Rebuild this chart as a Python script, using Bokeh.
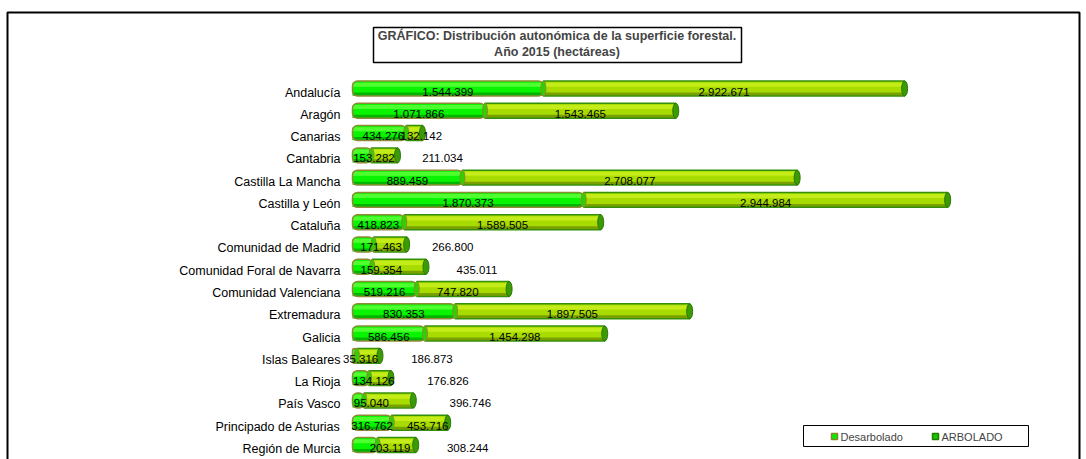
from bokeh.plotting import figure
from bokeh.models import Range1d, ColumnDataSource, LabelSet, Label, BoxAnnotation
from bokeh.embed import file_html
from bokeh.resources import INLINE
from bokeh.core.properties import value

# ---------------- data ----------------
regions = ["Andalucía", "Aragón", "Canarias", "Cantabria", "Castilla La Mancha",
           "Castilla y León", "Cataluña", "Comunidad de Madrid",
           "Comunidad Foral de Navarra", "Comunidad Valenciana", "Extremadura",
           "Galicia", "Islas Baleares", "La Rioja", "País Vasco",
           "Principado de Asturias", "Región de Murcia"]
desarbolado = [1544399, 1071866, 434276, 153282, 889459, 1870373, 418823, 171463,
               159354, 519216, 830353, 586456, 35316, 134126, 95040, 316762, 203119]
arbolado = [2922671, 1543465, 132142, 211034, 2708077, 2944984, 1589505, 266800,
            435011, 747820, 1897505, 1454298, 186873, 176826, 396746, 453716, 308244]
series_names = ["Desarbolado", "ARBOLADO"]
title_lines = ["GRÁFICO: Distribución autonómica de la superficie forestal.",
               "Año 2015 (hectáreas)"]

# label placement quirks of the original (pixel nudges)
outside_rows = {"Cantabria", "Comunidad de Madrid", "Comunidad Foral de Navarra",
                "Islas Baleares", "La Rioja", "País Vasco", "Región de Murcia"}
d_nudge = {"Canarias": 4, "Cantabria": 12, "Comunidad de Madrid": 18,
           "Comunidad Foral de Navarra": 19, "Islas Baleares": 6, "La Rioja": 13,
           "País Vasco": 13, "Región de Murcia": 25}
a_nudge = {"Cantabria": 45, "Comunidad de Madrid": 46, "Comunidad Foral de Navarra": 51,
           "Islas Baleares": 52, "La Rioja": 57, "País Vasco": 57,
           "Región de Murcia": 52, "Canarias": 7, "Principado de Asturias": 8,
           "Comunidad Valenciana": -5}


def fmt(v):
    return f"{v:,}".replace(",", ".")


FONT = "Liberation Sans"
W, H = 1086, 459
n = len(regions)
ys = list(range(n))
total = [d + a for d, a in zip(desarbolado, arbolado)]

# layout of the plotting area (frame covers the whole canvas)
X0 = 352            # pixel where value 0 sits
PX_PER_HA = 0.0001236
Y0 = 88             # pixel centre of first row
ROW = 22.28         # pixel distance between rows
x_start = -X0 / PX_PER_HA
x_end = x_start + W / PX_PER_HA
y_top = -Y0 / ROW
y_bottom = y_top + H / ROW

p = figure(width=W, height=H, output_backend="svg", toolbar_location=None,
           x_range=Range1d(x_start, x_end), y_range=Range1d(y_bottom, y_top),
           x_axis_location=None, y_axis_location=None,
           min_border_left=0, min_border_right=0, min_border_top=0,
           min_border_bottom=0)
p.grid.visible = False
p.outline_line_color = None
p.background_fill_color = "white"
p.border_fill_color = "white"

BH = 0.67
src = ColumnDataSource(dict(
    y=ys, region=regions, d=desarbolado, a=arbolado, tot=total,
    y_top=[y - 0.17 for y in ys], y_bot=[y + 0.25 for y in ys],
))

# colours
D_MID, D_TOP, D_BOT, D_LINE = "#08F400", "#50FF30", "#00B400", "#8E8A36"
A_MID, A_TOP, A_BOT, A_LINE = "#A8DC00", "#C4EC18", "#7AA000", "#34900A"

# ARBOLADO segment (drawn first, under the desarbolado cylinder end)
p.hbar(y="y", left="d", right="tot", height=BH, source=src,
       fill_color=A_MID, line_color=None)
p.hbar(y="y_top", left="d", right="tot", height=0.18, source=src,
       fill_color=A_TOP, line_color=None)
p.hbar(y="y_bot", left="d", right="tot", height=0.14, source=src,
       fill_color=A_BOT, line_color=None)
p.hbar(y="y", left="d", right="tot", height=BH, source=src,
       fill_color=None, line_color=A_LINE, line_width=1.5)
p.ellipse(x="tot", y="y", width=6, height=BH, width_units="screen",
          source=src, fill_color="#3C9A06", line_color="#2A7A00", line_width=1)

# Desarbolado segment
p.hbar(y="y", left=0, right="d", height=BH, source=src,
       fill_color=D_MID, line_color=None, border_radius=5)
p.hbar(y="y_top", left=0, right="d", height=0.18, source=src,
       fill_color=D_TOP, line_color=None)
p.hbar(y="y_bot", left=0, right="d", height=0.14, source=src,
       fill_color=D_BOT, line_color=None)
p.hbar(y="y", left=0, right="d", height=BH, source=src,
       fill_color=None, line_color=D_LINE, line_width=1.5, border_radius=5)
p.ellipse(x="d", y="y", width=5, height=BH, width_units="screen",
          source=src, fill_color="#30D000", line_color=D_LINE, line_width=1)

# value labels
d_x = [v / 2 for v in desarbolado]
d_off = [d_nudge.get(r, 0) for r in regions]
a_x = [t if r in outside_rows else d + a / 2
       for r, d, a, t in zip(regions, desarbolado, arbolado, total)]
a_off = [a_nudge.get(r, 0) for r in regions]
lab = ColumnDataSource(dict(
    y=ys, dx=d_x, dt=[fmt(v) for v in desarbolado], doff=d_off,
    ax=a_x, at=[fmt(v) for v in arbolado], aoff=a_off,
    cx=[0] * n, region=regions,
))
common = dict(text_font=value(FONT), text_font_size="11.5px", text_color="black",
              text_align="center", text_baseline="middle", y_offset=-3)
p.add_layout(LabelSet(x="dx", y="y", text="dt", x_offset="doff", source=lab, **common))
p.add_layout(LabelSet(x="ax", y="y", text="at", x_offset="aoff", source=lab, **common))

# category labels
p.add_layout(LabelSet(x="cx", y="y", text="region", source=lab, x_offset=-12, y_offset=-4,
                      text_font=value(FONT), text_font_size="12.5px", text_color="black",
                      text_align="right", text_baseline="middle"))


def sy(yy):
    return H - yy


def screen_box(l, r, t, b, **kw):
    return BoxAnnotation(left=l, right=r, top=sy(t), bottom=sy(b),
                         left_units="screen", right_units="screen",
                         top_units="screen", bottom_units="screen",
                         line_alpha=1, **kw)


# outer chart border
p.add_layout(screen_box(7, 1079, 12, H + 20, fill_color=None, line_color="black",
                        line_width=2))

# title box
p.add_layout(screen_box(373, 741, 27, 62, fill_color="white", fill_alpha=1,
                        line_color="black", line_width=1.5))
for i, t in enumerate(title_lines):
    p.add_layout(Label(x=556.5, y=sy(35 + 16 * i), x_units="screen", y_units="screen",
                       text=t, text_font=FONT, text_font_size="12.5px",
                       text_font_style="bold", text_align="center",
                       text_baseline="middle"))

# legend
p.add_layout(screen_box(803, 1028, 425, 446, fill_color="white", fill_alpha=1,
                        line_color="black", line_width=1))
legend_items = [(series_names[0], 831, "#00F000", "#86862A"),
                (series_names[1], 932, "#1CC400", "#1F7F00")]
for name, lx, fc, lc in legend_items:
    p.add_layout(screen_box(lx, lx + 6, 433, 439, fill_color=fc, fill_alpha=1,
                            line_color=lc, line_width=1.5))
    p.add_layout(Label(x=lx + 9, y=sy(436), x_units="screen", y_units="screen",
                       text=name, text_font=FONT, text_font_size="11px",
                       text_align="left", text_baseline="middle"))

open("out.html", "w").write(file_html(p, INLINE))
